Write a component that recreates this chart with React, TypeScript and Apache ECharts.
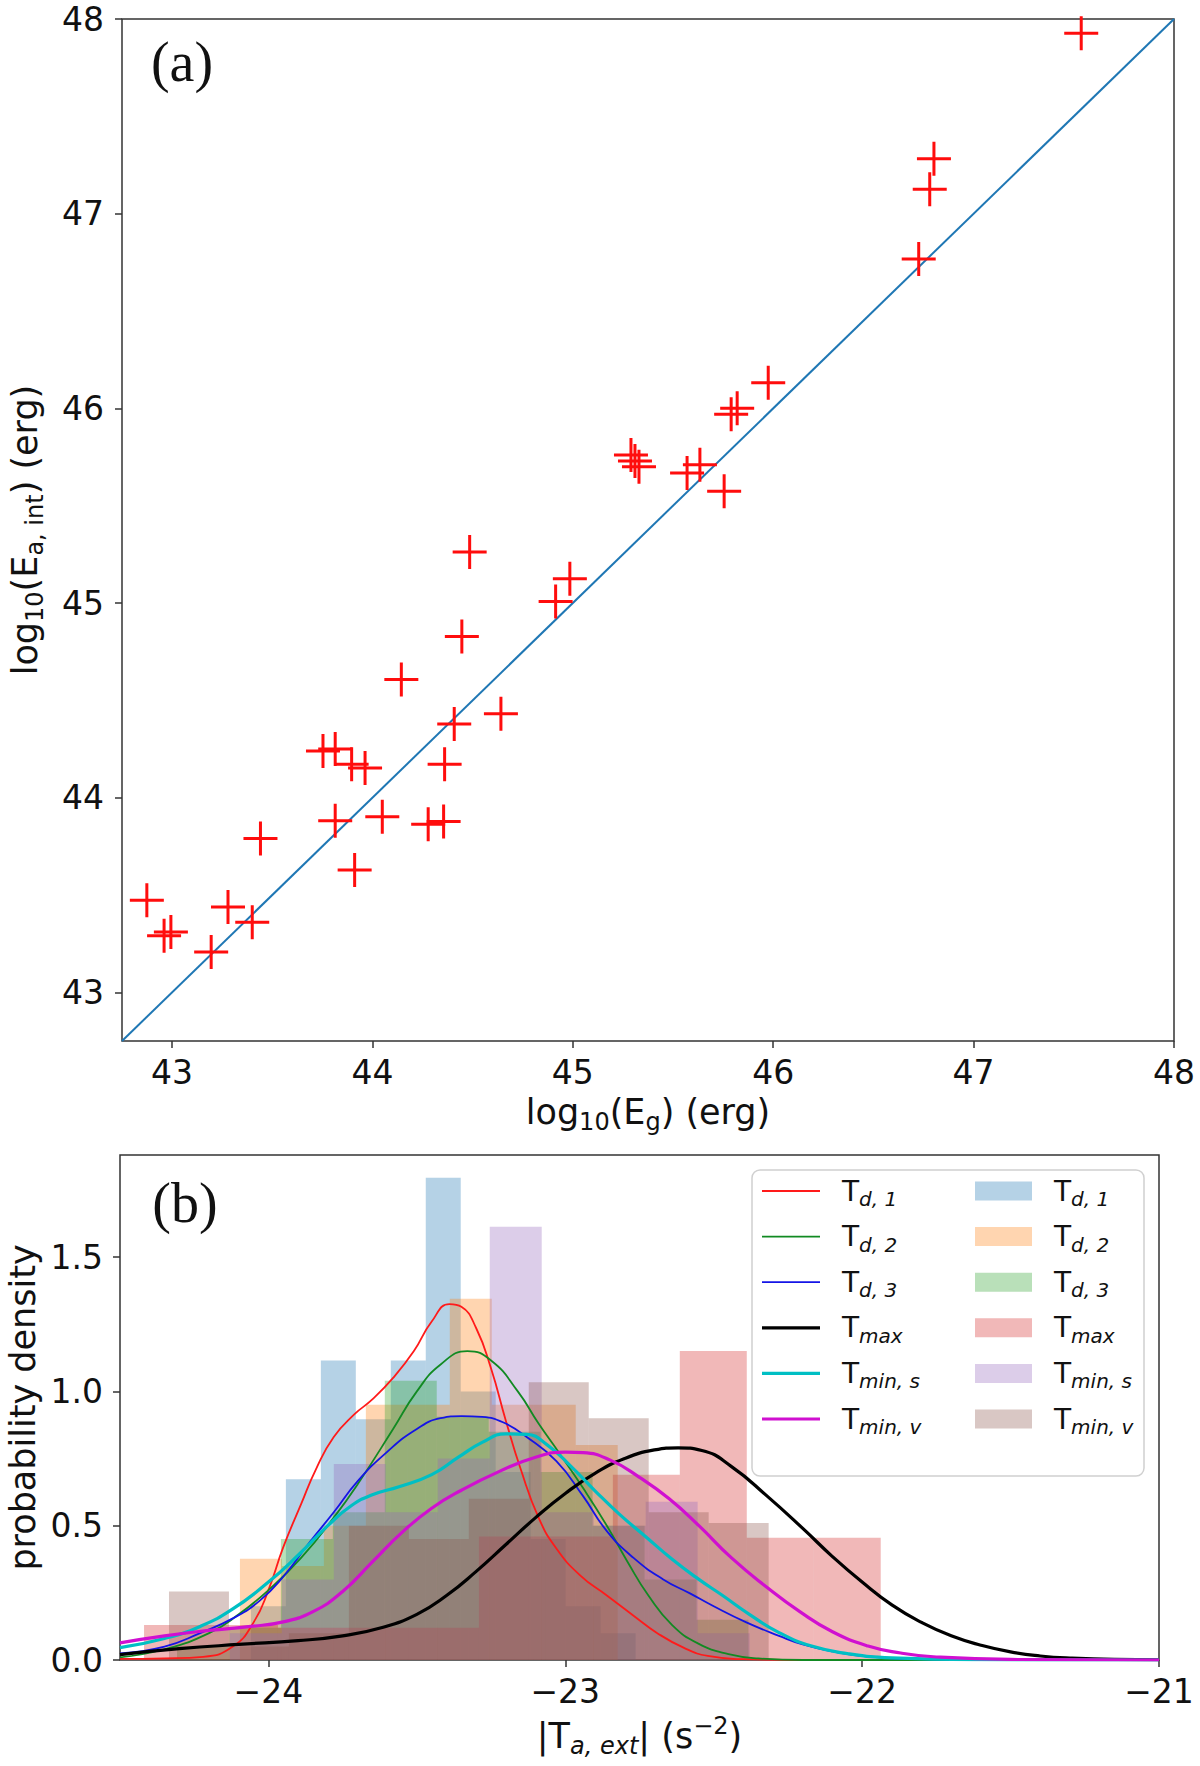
import React, { useEffect, useRef } from "react";
import * as echarts from "echarts";

const FONT = "DejaVu Sans";
const INK = "#111111";

// ---- panel (a): log10(E_g) vs log10(E_a,int) ----
const egValues = [
  42.874, 42.96, 42.994, 43.195, 43.279, 43.4, 43.441, 43.753, 43.814, 43.896,
  43.963, 43.814, 43.911, 44.049, 44.144, 44.278, 44.355, 44.36, 44.408, 44.446,
  44.485, 44.641, 44.914, 44.985, 45.29, 45.31, 45.33, 45.57, 45.634, 45.755,
  45.79, 45.82, 45.975, 46.726, 46.781, 46.802, 47.537,
];
const eaValues = [
  43.473, 43.291, 43.31, 43.207, 43.438, 43.36, 43.79, 44.24, 44.25, 44.172,
  44.152, 43.882, 43.628, 43.902, 44.607, 43.863, 43.878, 44.172, 44.378, 44.828,
  45.262, 44.431, 45.008, 45.125, 45.76, 45.73, 45.7, 45.668, 45.71, 45.574,
  45.97, 46.0, 46.131, 46.767, 47.125, 47.282, 47.927,
];
const diagEnds = [42.75, 48];
const ticksA = [43, 44, 45, 46, 47, 48];

// ---- panel (b): histograms (first bin edge, bin width, densities) ----
const td1Start = -24.059;
const td1Width = 0.1178;
const td1Heights = [0.2, 0.673, 1.115, 0.896, 1.115, 1.795, 1.0, 0.7, 0.45, 0.2, 0.1];

const td2Start = -24.096;
const td2Width = 0.1414;
const td2Heights = [0.377, 0.35, 0.5, 0.95, 0.95, 1.345, 0.95, 0.95, 0.8];

const td3Start = -24.308;
const td3Width = 0.175;
const td3Heights = [0.05, 0.12, 0.45, 0.55, 1.04, 0.906, 0.85, 0.7, 0.5, 0.3, 0.15];

const tmaxStart = -24.419;
const tmaxWidth = 0.2256;
const tmaxHeights = [0.13, 0.13, 0.12, 0.12, 0.12, 0.46, 0.46, 0.69, 1.15, 0.455, 0.455];

const tminsStart = -24.13;
const tminsWidth = 0.1751;
const tminsHeights = [0.1, 0.3, 0.73, 0.55, 0.75, 1.613, 0.55, 0.5, 0.589, 0.1];

const tminvStart = -24.335;
const tminvWidth = 0.202;
const tminvHeights = [0.255, 0.05, 0.1, 0.5, 0.45, 0.6, 1.034, 0.9, 0.55, 0.51];

// ---- panel (b): KDE curves ----
const td1Kde = [
  [-24.5, 0.004], [-24.35, 0.006], [-24.22, 0.012], [-24.12, 0.05], [-24.05, 0.14],
  [-24.0, 0.26], [-23.95, 0.42], [-23.89, 0.58], [-23.84, 0.71], [-23.78, 0.83],
  [-23.71, 0.915], [-23.65, 0.97], [-23.58, 1.05], [-23.51, 1.15], [-23.45, 1.26],
  [-23.39, 1.325], [-23.35, 1.315], [-23.3, 1.235], [-23.25, 1.085], [-23.2, 0.89],
  [-23.15, 0.71], [-23.09, 0.53], [-23.03, 0.415], [-22.95, 0.315], [-22.86, 0.24],
  [-22.77, 0.165], [-22.69, 0.1], [-22.6, 0.045], [-22.52, 0.015], [-22.4, 0.003],
  [-22.2, 0], [-21.6, 0], [-21, 0],
];
const td2Kde = [
  [-24.5, 0.01], [-24.35, 0.04], [-24.2, 0.1], [-24.1, 0.17], [-24.0, 0.26],
  [-23.89, 0.38], [-23.78, 0.53], [-23.69, 0.67], [-23.58, 0.86], [-23.5, 1.0],
  [-23.42, 1.1], [-23.33, 1.15], [-23.25, 1.115], [-23.16, 1.0], [-23.09, 0.88],
  [-23.02, 0.77], [-22.94, 0.64], [-22.86, 0.5], [-22.79, 0.365], [-22.72, 0.24],
  [-22.64, 0.13], [-22.55, 0.06], [-22.45, 0.022], [-22.35, 0.006], [-22.2, 0],
  [-21.6, 0], [-21, 0],
];
const td3Kde = [
  [-24.5, 0.025], [-24.35, 0.05], [-24.23, 0.1], [-24.12, 0.155], [-24.03, 0.22],
  [-23.95, 0.31], [-23.86, 0.44], [-23.78, 0.55], [-23.7, 0.665], [-23.6, 0.775],
  [-23.5, 0.86], [-23.42, 0.9], [-23.35, 0.908], [-23.28, 0.905], [-23.21, 0.885],
  [-23.13, 0.83], [-23.03, 0.74], [-22.94, 0.61], [-22.86, 0.48], [-22.77, 0.38],
  [-22.67, 0.3], [-22.58, 0.248], [-22.5, 0.2], [-22.39, 0.14], [-22.28, 0.09],
  [-22.2, 0.058], [-22.1, 0.032], [-21.98, 0.013], [-21.8, 0.003], [-21.5, 0],
  [-21, 0],
];
const tmaxKde = [
  [-24.5, 0.02], [-24.3, 0.042], [-24.1, 0.058], [-23.9, 0.072], [-23.75, 0.09],
  [-23.62, 0.12], [-23.5, 0.17], [-23.4, 0.24], [-23.3, 0.33], [-23.2, 0.43],
  [-23.1, 0.53], [-23.0, 0.62], [-22.9, 0.695], [-22.8, 0.75], [-22.7, 0.782],
  [-22.62, 0.79], [-22.54, 0.78], [-22.44, 0.72], [-22.32, 0.61], [-22.2, 0.49],
  [-22.1, 0.385], [-22.0, 0.29], [-21.9, 0.205], [-21.8, 0.14], [-21.7, 0.09],
  [-21.6, 0.055], [-21.5, 0.03], [-21.4, 0.015], [-21.3, 0.007], [-21.15, 0.002],
  [-21, 0.001],
];
const tminsKde = [
  [-24.5, 0.046], [-24.35, 0.08], [-24.23, 0.125], [-24.12, 0.19], [-24.0, 0.29],
  [-23.9, 0.39], [-23.8, 0.5], [-23.72, 0.575], [-23.65, 0.615], [-23.56, 0.645],
  [-23.45, 0.69], [-23.36, 0.755], [-23.28, 0.81], [-23.2, 0.842], [-23.13, 0.84],
  [-23.06, 0.8], [-22.98, 0.72], [-22.9, 0.63], [-22.82, 0.545], [-22.73, 0.46],
  [-22.64, 0.375], [-22.55, 0.3], [-22.47, 0.24], [-22.38, 0.17], [-22.28, 0.102],
  [-22.17, 0.052], [-22.05, 0.024], [-21.9, 0.008], [-21.6, 0.001], [-21, 0],
];
const tminvKde = [
  [-24.5, 0.064], [-24.35, 0.09], [-24.2, 0.11], [-24.06, 0.125], [-23.95, 0.142],
  [-23.85, 0.18], [-23.75, 0.255], [-23.65, 0.365], [-23.55, 0.475], [-23.45, 0.565],
  [-23.35, 0.632], [-23.22, 0.703], [-23.1, 0.755], [-23.0, 0.774], [-22.94, 0.772],
  [-22.85, 0.745], [-22.75, 0.68], [-22.65, 0.6], [-22.55, 0.5], [-22.44, 0.38],
  [-22.32, 0.27], [-22.21, 0.18], [-22.1, 0.105], [-21.98, 0.052], [-21.87, 0.026],
  [-21.76, 0.012], [-21.5, 0.002], [-21, 0],
];
const ticksBX = [-24, -23, -22, -21];
const ticksBY = [0, 0.5, 1, 1.5];

// legend labels, rich text
const legendText: Record<string, string> = {
  td1: "{g| }{t|T}{s|d, 1}",
  td2: "{g| }{t|T}{s|d, 2}",
  td3: "{g| }{t|T}{s|d, 3}",
  tmax: "{g| }{t|T}{s|max}",
  tmins: "{g| }{t|T}{s|min, s}",
  tminv: "{g| }{t|T}{s|min, v}",
};

const toBins = (start: number, width: number, heights: number[]) =>
  heights.map((h, i) => [start + i * width, start + (i + 1) * width, h]);

const titleRich = {
  n: { fontSize: 35, fontFamily: FONT, color: INK, lineHeight: 44 },
  s: { fontSize: 24, fontFamily: FONT, color: INK, lineHeight: 26, verticalAlign: "bottom" },
  si: { fontSize: 24, fontFamily: FONT, color: INK, lineHeight: 26, verticalAlign: "bottom", fontStyle: "italic" },
  p: { fontSize: 24, fontFamily: FONT, color: INK, lineHeight: 26, verticalAlign: "top" },
};

const legendRich = {
  g: { width: 17 },
  t: { fontSize: 28, fontFamily: FONT, color: INK, lineHeight: 36 },
  s: { fontSize: 20, fontFamily: FONT, color: INK, lineHeight: 22, verticalAlign: "bottom", fontStyle: "italic" },
};

const Chart = () => {
  const chartRef = useRef<HTMLDivElement>(null);

  useEffect(() => {
    if (!chartRef.current) return;
    const chart = echarts.init(chartRef.current, null, { renderer: "svg" });

    const histDefs = [
      { key: "td1", bins: toBins(td1Start, td1Width, td1Heights), color: "rgba(31,119,180,0.33)" },
      { key: "td2", bins: toBins(td2Start, td2Width, td2Heights), color: "rgba(255,127,14,0.33)" },
      { key: "td3", bins: toBins(td3Start, td3Width, td3Heights), color: "rgba(44,160,44,0.33)" },
      { key: "tmax", bins: toBins(tmaxStart, tmaxWidth, tmaxHeights), color: "rgba(214,39,40,0.33)" },
      { key: "tmins", bins: toBins(tminsStart, tminsWidth, tminsHeights), color: "rgba(148,103,189,0.33)" },
      { key: "tminv", bins: toBins(tminvStart, tminvWidth, tminvHeights), color: "rgba(140,86,75,0.33)" },
    ];
    const kdeDefs = [
      { key: "td1", data: td1Kde, color: "#ff1a1a", width: 1.8 },
      { key: "td2", data: td2Kde, color: "#118a22", width: 1.8 },
      { key: "td3", data: td3Kde, color: "#1414e6", width: 1.8 },
      { key: "tmax", data: tmaxKde, color: "#000000", width: 3.2 },
      { key: "tmins", data: tminsKde, color: "#00bfc4", width: 3.2 },
      { key: "tminv", data: tminvKde, color: "#d010d0", width: 3.2 },
    ];

    const histSeries = histDefs.map((h) => ({
      type: "custom",
      name: h.key + "-hist",
      xAxisIndex: 1,
      yAxisIndex: 1,
      data: h.bins,
      encode: { x: [0, 1], y: 2 },
      clip: true,
      z: 2,
      itemStyle: { color: h.color },
      renderItem: (params: any, api: any) => {
        const top = api.coord([api.value(0), api.value(2)]);
        const base = api.coord([api.value(1), 0]);
        return {
          type: "rect",
          shape: { x: top[0], y: top[1], width: base[0] - top[0], height: base[1] - top[1] },
          style: { fill: h.color },
        };
      },
    }));

    const kdeSeries = kdeDefs.map((k) => ({
      type: "line",
      name: k.key + "-kde",
      xAxisIndex: 1,
      yAxisIndex: 1,
      data: k.data,
      symbol: "none",
      showSymbol: false,
      smooth: 0.5,
      clip: true,
      z: 3,
      lineStyle: { color: k.color, width: k.width },
      itemStyle: { color: k.color },
    }));

    const lineIcon = (w: number) => `path://M0,0H58V${w}H0Z`;

    const tickLabel = { fontSize: 33, lineHeight: 28, fontFamily: FONT, color: INK };
    const tickLine = { color: "#333333", width: 1.5 };
    const fmtMinus = (v: number) => (v < 0 ? "\u2212" + Math.abs(v) : String(v));

    const option: any = {
      animation: false,
      backgroundColor: "#ffffff",
      textStyle: { fontFamily: FONT },
      grid: [
        { left: 122, top: 19, width: 1052, height: 1022, show: true, borderColor: "#333333", borderWidth: 1.5, backgroundColor: "transparent", outerBoundsMode: "none" },
        { left: 120, top: 1155, width: 1039, height: 505, show: true, borderColor: "#333333", borderWidth: 1.5, backgroundColor: "transparent", outerBoundsMode: "none" },
      ],
      xAxis: [
        {
          gridIndex: 0, type: "value", min: diagEnds[0], max: diagEnds[1],
          axisLine: { show: false }, splitLine: { show: false },
          axisTick: { show: true, customValues: ticksA, length: 7, lineStyle: tickLine },
          axisLabel: { ...tickLabel, customValues: ticksA, margin: 17 },
          name: "{n|log}{s|10}{n|(E}{s|g}{n|) (erg)}",
          nameLocation: "middle", nameGap: 49, nameMoveOverlap: false,
          nameTextStyle: { rich: titleRich },
        },
        {
          gridIndex: 1, type: "value", min: -24.5, max: -21,
          axisLine: { show: false }, splitLine: { show: false },
          axisTick: { show: true, customValues: ticksBX, length: 7, lineStyle: tickLine },
          axisLabel: { ...tickLabel, customValues: ticksBX, margin: 17, formatter: fmtMinus },
          name: "{n||T}{si|a, ext}{n|| (s}{p|\u22122}{n|)}",
          nameLocation: "middle", nameGap: 54, nameMoveOverlap: false,
          nameTextStyle: { rich: titleRich },
        },
      ],
      yAxis: [
        {
          gridIndex: 0, type: "value", min: diagEnds[0], max: diagEnds[1],
          axisLine: { show: false }, splitLine: { show: false },
          axisTick: { show: true, customValues: ticksA, length: 7, lineStyle: tickLine },
          axisLabel: { ...tickLabel, customValues: ticksA, margin: 18 },
          name: "{n|log}{s|10}{n|(E}{s|a, int}{n|) (erg)}",
          nameLocation: "middle", nameRotate: 90, nameGap: 75, nameMoveOverlap: false,
          nameTextStyle: { rich: titleRich },
        },
        {
          gridIndex: 1, type: "value", min: 0, max: 1.88,
          axisLine: { show: false }, splitLine: { show: false },
          axisTick: { show: true, customValues: ticksBY, length: 7, lineStyle: tickLine },
          axisLabel: { ...tickLabel, customValues: ticksBY, margin: 17, formatter: (v: number) => v.toFixed(1) },
          name: "{n|probability density}",
          nameLocation: "middle", nameRotate: 90, nameGap: 75, nameMoveOverlap: false,
          nameTextStyle: { rich: titleRich },
        },
      ],
      legend: [
        {
          data: kdeDefs.map((k) => ({ name: k.key + "-kde", icon: lineIcon(k.width) })),
          orient: "vertical", left: 762, top: 1177, padding: 0,
          itemWidth: 58, itemHeight: 20, itemGap: 13.6,
          selectedMode: false, z: 6,
          formatter: (name: string) => legendText[name.split("-")[0]],
          textStyle: { rich: legendRich },
        },
        {
          data: histDefs.map((h) => h.key + "-hist"),
          orient: "vertical", left: 975, top: 1177, padding: 0,
          itemWidth: 57, itemHeight: 19, itemGap: 13.6, icon: "rect",
          selectedMode: false, z: 6,
          formatter: (name: string) => legendText[name.split("-")[0]],
          textStyle: { rich: legendRich },
        },
      ],
      graphic: [
        {
          type: "rect", z: 5,
          shape: { x: 752, y: 1170, width: 392, height: 306, r: 8 },
          style: { fill: "rgba(255,255,255,0.8)", stroke: "#d0d0d0", lineWidth: 1.5 },
        },
        {
          type: "text", z: 7, x: 182, y: 62,
          style: { text: "(a)", fontSize: 56, fontFamily: "Liberation Serif", fill: INK, align: "center", verticalAlign: "middle" },
        },
        {
          type: "text", z: 7, x: 185, y: 1203,
          style: { text: "(b)", fontSize: 56, fontFamily: "Liberation Serif", fill: INK, align: "center", verticalAlign: "middle" },
        },
      ],
      series: [
        {
          type: "line", name: "diagonal", xAxisIndex: 0, yAxisIndex: 0,
          data: [[diagEnds[0], diagEnds[0]], [diagEnds[1], diagEnds[1]]],
          symbol: "none", z: 2,
          lineStyle: { color: "#1f77b4", width: 2 },
        },
        {
          type: "scatter", name: "energies", xAxisIndex: 0, yAxisIndex: 0,
          data: egValues.map((x, i) => [x, eaValues[i]]),
          symbol: "path://M0,-10L0,10M-10,0L10,0",
          symbolSize: 34, z: 3,
          itemStyle: { color: "transparent", borderColor: "#ff0d0d", borderWidth: 3, opacity: 1 },
        },
        ...histSeries,
        ...kdeSeries,
      ],
    };

    chart.setOption(option);
    return () => chart.dispose();
  }, []);

  return (
    <div
      ref={chartRef}
      style={{ position: "absolute", left: 0, top: 0, width: 1200, height: 1766, background: "#fff" }}
    />
  );
};

export default function App() {
  return <Chart />;
}
